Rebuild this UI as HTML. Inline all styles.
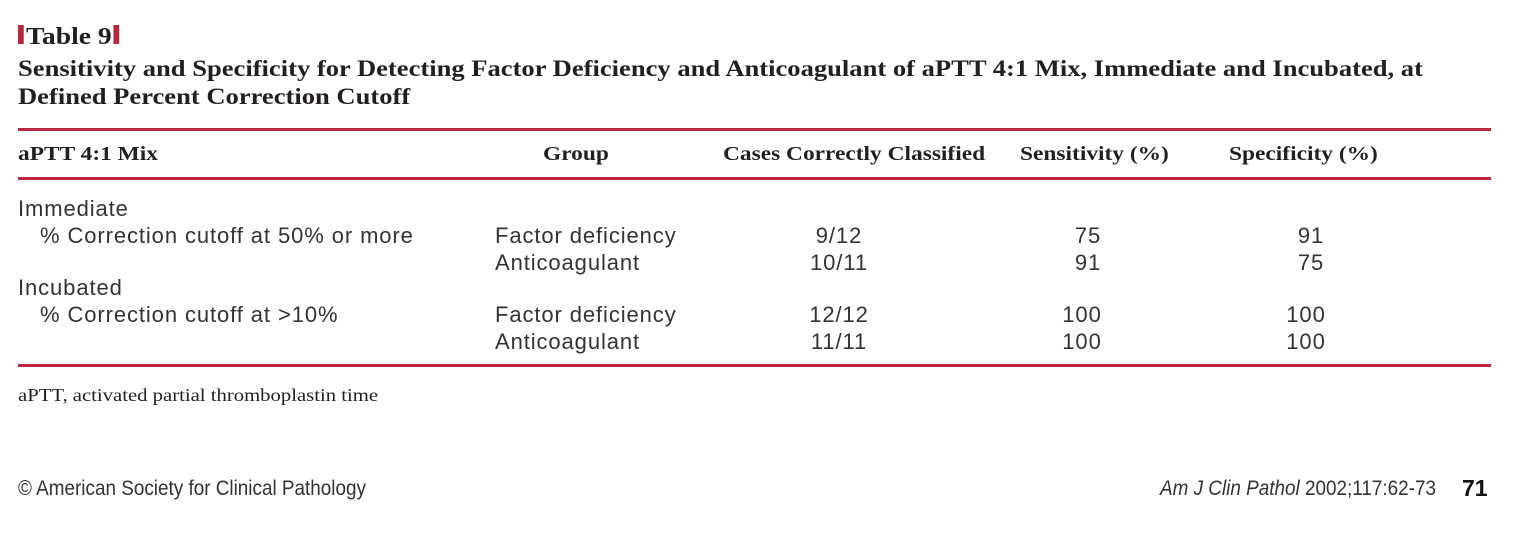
<!DOCTYPE html>
<html><head><meta charset="utf-8"><style>
body{margin:0;width:1514px;height:534px;background:#fff;position:relative;overflow:hidden;color:#231f20}
.a{position:absolute;white-space:nowrap;transform-origin:left center}
.s{font-family:"Liberation Serif",serif;font-weight:bold}
.h{font-size:20px;transform:scaleX(1.17)}
.b{font-family:"Liberation Sans",sans-serif;font-size:22px;letter-spacing:0.9px;color:#333}
.r{position:absolute;left:18px;width:1473px;height:3px;background:#b5283f}
.c{text-align:center;width:120px;transform-origin:center}
</style></head><body>
<div class="a s" style="left:18px;top:24px;font-size:24px;transform:scaleX(1.15)"><span style="display:inline-block;width:5px;height:19px;background:#b5283f;margin-right:2px"></span>Table 9<span style="display:inline-block;width:5px;height:19px;background:#b5283f;margin-left:2px"></span></div>
<div class="a s" style="left:18px;top:55px;font-size:23px;line-height:28px;transform:scaleX(1.155);transform-origin:left top">Sensitivity and Specificity for Detecting Factor Deficiency and Anticoagulant of aPTT 4:1 Mix, Immediate and Incubated, at<br>Defined Percent Correction Cutoff</div>
<div class="r" style="top:128px"></div>
<div class="r" style="top:177px"></div>
<div class="r" style="top:364px"></div>
<div class="a s h" style="left:18px;top:143px">aPTT 4:1 Mix</div>
<div class="a s h" style="left:543px;top:143px">Group</div>
<div class="a s h" style="left:723px;top:143px">Cases Correctly Classified</div>
<div class="a s h" style="left:1020px;top:143px">Sensitivity (%)</div>
<div class="a s h" style="left:1229px;top:143px">Specificity (%)</div>

<div class="a b" style="left:18px;top:196px">Immediate</div>
<div class="a b" style="left:40px;top:223px">% Correction cutoff at 50% or more</div>
<div class="a b" style="left:18px;top:275px">Incubated</div>
<div class="a b" style="left:40px;top:302px">% Correction cutoff at &gt;10%</div>

<div class="a b" style="left:495px;top:223px">Factor deficiency</div>
<div class="a b" style="left:495px;top:250px">Anticoagulant</div>
<div class="a b" style="left:495px;top:302px">Factor deficiency</div>
<div class="a b" style="left:495px;top:329px">Anticoagulant</div>

<div class="a b c" style="left:779px;top:223px">9/12</div>
<div class="a b c" style="left:779px;top:250px">10/11</div>
<div class="a b c" style="left:779px;top:302px">12/12</div>
<div class="a b c" style="left:779px;top:329px">11/11</div>

<div class="a b c" style="left:1028px;top:223px">75</div>
<div class="a b c" style="left:1028px;top:250px">91</div>
<div class="a b c" style="left:1022px;top:302px">100</div>
<div class="a b c" style="left:1022px;top:329px">100</div>

<div class="a b c" style="left:1251px;top:223px">91</div>
<div class="a b c" style="left:1251px;top:250px">75</div>
<div class="a b c" style="left:1246px;top:302px">100</div>
<div class="a b c" style="left:1246px;top:329px">100</div>

<div class="a" style="left:18px;top:385px;font-family:'Liberation Serif',serif;font-size:18px;transform:scaleX(1.15)">aPTT, activated partial thromboplastin time</div>
<div class="a" style="left:18px;top:477px;font-family:'Liberation Sans',sans-serif;font-size:21px;color:#333;transform:scaleX(0.9)">© American Society for Clinical Pathology</div>
<div class="a" style="left:1160px;top:477px;font-family:'Liberation Sans',sans-serif;font-size:21px;color:#333;transform:scaleX(0.9)"><i>Am J Clin Pathol</i> 2002;117:62-73</div>
<div class="a" style="left:1462px;top:475px;font-family:'Liberation Sans',sans-serif;font-weight:bold;font-size:23px;color:#111">71</div>
</body></html>
